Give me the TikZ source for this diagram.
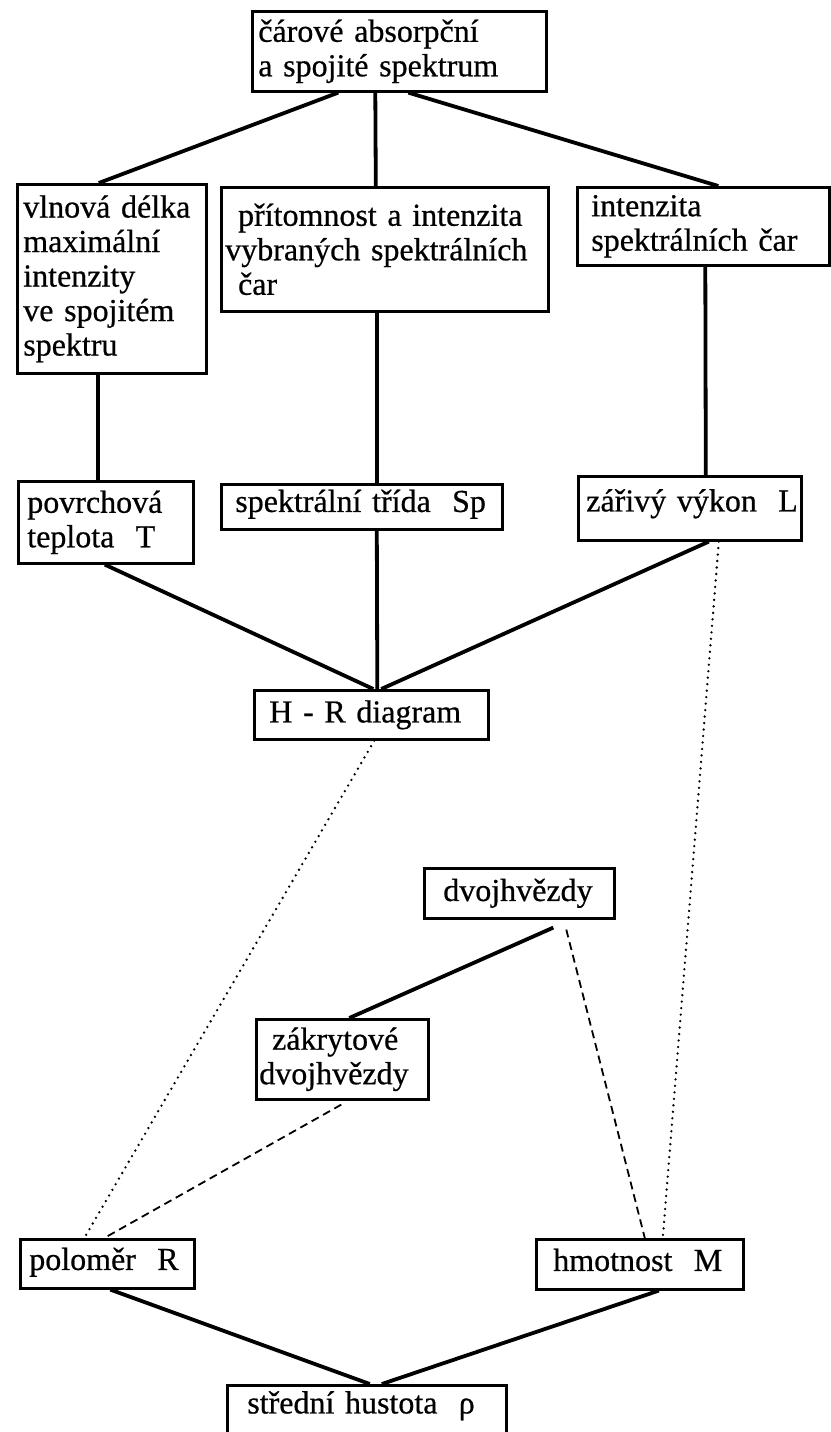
\documentclass[tikz,border=0pt]{standalone}
\usepackage{fontspec}
\setmainfont{Liberation Serif}[FakeBold=0.6]
\begin{document}
\begin{tikzpicture}[x=1pt, y=-1pt,
  box/.style={draw, line width=2.6pt, anchor=north west, align=left, inner ysep=0pt, font=\fontsize{32}{34.5}\selectfont},
  link/.style={line width=3.8pt},
  dotlink/.style={line width=2.6pt, line cap=round, dash pattern=on 0pt off 6.5pt},
  dashlink/.style={line width=1.8pt, dash pattern=on 8pt off 5pt}]
  \useasboundingbox (0,0) rectangle (830,1432);
  % boxes
  \node[box, minimum width=294pt, minimum height=80pt, inner xsep=6pt, text width=282pt] (spektrum) at (251,10)
    {čárové~absorpční\\a~spojité~spektrum};
  \node[box, minimum width=189pt, minimum height=189pt, inner xsep=6pt, text width=177pt] (vlnova) at (16,183)
    {vlnová~délka\\maximální\\intenzity\\ve~spojitém\\spektru};
  \node[box, minimum width=327pt, minimum height=124pt, inner xsep=4pt, text width=319pt] (pritomnost) at (220,186)
    {\hspace*{0.4em}přítomnost~a~intenzita\\vybraných~spektrálních\\\hspace*{0.4em}čar};
  \node[box, minimum width=252pt, minimum height=78pt, inner xsep=14pt, text width=224pt] (intenzita) at (576,186)
    {intenzita\\spektrálních~čar};
  \node[box, minimum width=175pt, minimum height=82pt, inner xsep=9pt, text width=157pt] (povrchova) at (17,480)
    {povrchová\\teplota~~T};
  \node[box, minimum width=281pt, minimum height=45pt, inner xsep=14pt, text width=253pt, text depth=12pt] (spektralni) at (220,483)
    {spektrální~třída~~Sp};
  \node[box, minimum width=223pt, minimum height=64pt, inner xsep=8pt, text width=207pt, text depth=16pt] (zarivy) at (577,475)
    {zářivý~výkon~~L};
  \node[box, minimum width=234pt, minimum height=49pt, inner xsep=15pt, text width=204pt] (hr) at (253,689)
    {H~-~R~diagram};
  \node[box, minimum width=190pt, minimum height=50pt, inner xsep=19pt, text width=152pt] (dvoj) at (423,867)
    {dvojhvězdy};
  \node[box, minimum width=172pt, minimum height=80pt, inner xsep=3pt, text width=166pt] (zakryt) at (255,1018)
    {\hspace*{0.4em}zákrytové\\dvojhvězdy};
  \node[box, minimum width=174pt, minimum height=49pt, inner xsep=9pt, text width=156pt, text depth=10pt] (polomer) at (19,1238)
    {poloměr~~R};
  \node[box, minimum width=207pt, minimum height=50pt, inner xsep=17pt, text width=173pt, text depth=9pt] (hmotnost) at (535,1238)
    {hmotnost~~M};
  \node[box, minimum width=279pt, minimum height=60pt, inner xsep=20pt, text width=239pt, text depth=26pt] (stredni) at (226,1384)
    {střední~hustota~~ρ};
  % solid links
  \draw[link] ([xshift=-61pt]spektrum.south) -- ([xshift=-13pt]vlnova.north);
  \draw[link] ([xshift=-24pt]spektrum.south) -- ([xshift=-9pt]pritomnost.north);
  \draw[link] ([xshift=9pt]spektrum.south) -- ([xshift=15pt]intenzita.north);
  \draw[link] ([xshift=-14pt]vlnova.south) -- ([xshift=-8pt]povrchova.north);
  \draw[link] ([xshift=-8pt]pritomnost.south) -- ([xshift=15pt]spektralni.north);
  \draw[link] ([xshift=2pt]intenzita.south) -- ([xshift=16pt]zarivy.north);
  \draw[link] ([xshift=-1pt]povrchova.south) -- ([xshift=2pt]hr.north);
  \draw[link] ([xshift=15pt]spektralni.south) -- ([xshift=6pt]hr.north);
  \draw[link] ([xshift=19pt]zarivy.south) -- ([xshift=10pt]hr.north);
  \draw[link] ([xshift=34pt, yshift=-8pt]dvoj.south) -- ([xshift=7pt]zakryt.north);
  \draw[link] ([xshift=3pt]polomer.south) -- ([xshift=3pt]stredni.north);
  \draw[link] ([xshift=19pt]hmotnost.south) -- ([xshift=15pt]stredni.north);
  % dotted and dashed links
  \draw[dotlink] ([xshift=3pt]hr.south) -- ([xshift=-23pt]polomer.north);
  \draw[dotlink] ([xshift=29pt]zarivy.south) -- ([xshift=23pt]hmotnost.north);
  \draw[dashlink] ([xshift=47pt, yshift=-10pt]dvoj.south) -- ([xshift=5pt]hmotnost.north);
  \draw[dashlink] ([xshift=-1pt, yshift=-4pt]zakryt.south) -- ([xshift=-3pt]polomer.north);
\end{tikzpicture}
\end{document}
